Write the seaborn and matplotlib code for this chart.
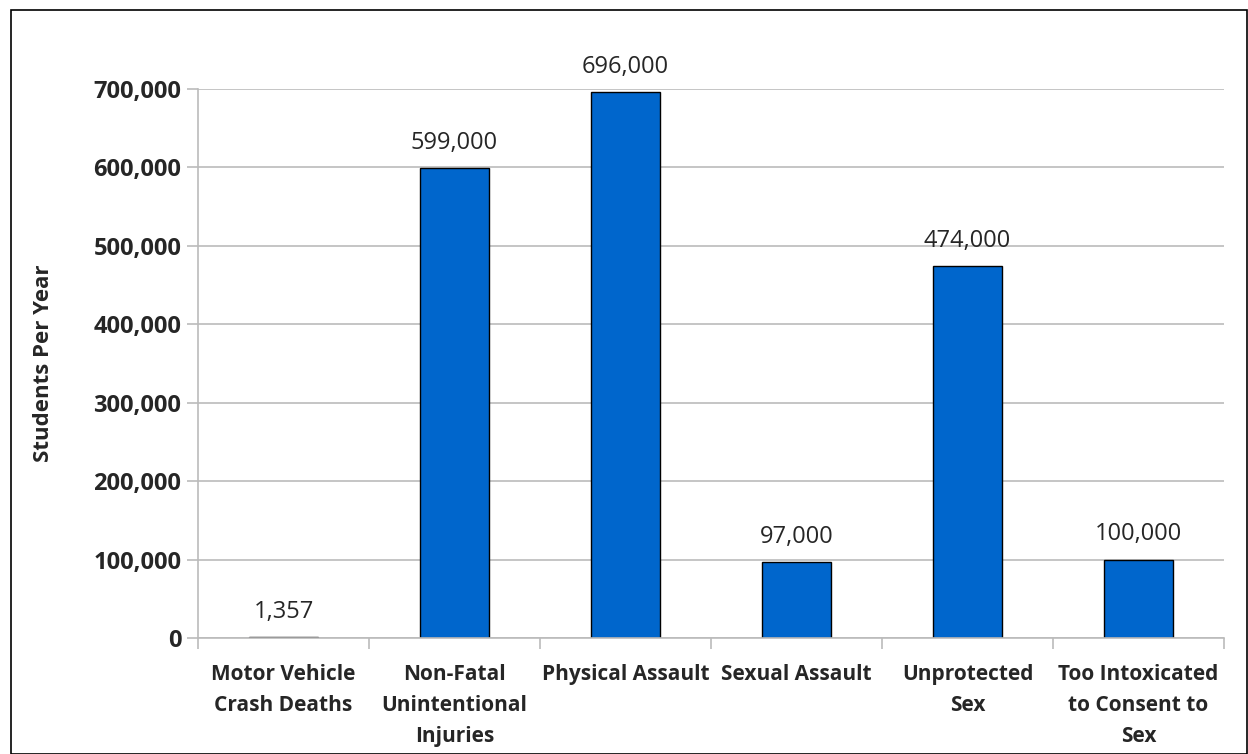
import numpy as np
import pandas as pd
import matplotlib
matplotlib.use("Agg")
import matplotlib.pyplot as plt
from matplotlib.patches import Rectangle
from matplotlib.ticker import FuncFormatter, FixedLocator
import seaborn as sns

categories = ["Motor Vehicle\nCrash Deaths", "Non-Fatal\nUnintentional\nInjuries",
              "Physical Assault", "Sexual Assault", "Unprotected\nSex",
              "Too Intoxicated\nto Consent to\nSex"]
students = [1357, 599000, 696000, 97000, 474000, 100000]
yticks = [0, 100000, 200000, 300000, 400000, 500000, 600000, 700000]

df = pd.DataFrame({"category": categories, "students": students})

sns.set_theme(style="white")
plt.rcParams['font.family'] = ['Open Sans', 'DejaVu Sans']

fig = plt.figure(figsize=(12.48, 7.54), dpi=100)
ax = fig.add_axes([198/1248, 1 - 638/754, (1224-198)/1248, (638-89)/754])

sns.barplot(data=df, x="category", y="students", color="#0066CC", width=0.4,
            edgecolor="black", linewidth=1, saturation=1, ax=ax)

ax.set_ylim(0, 700000)
ax.set_xlim(-0.5, len(categories) - 0.5)
ax.set_yticks(yticks)
ax.yaxis.set_major_formatter(FuncFormatter(lambda v, p: f"{int(v):,}"))
ax.yaxis.grid(True, color="#BBBBBB", linewidth=1.2)
ax.set_axisbelow(True)
for s in ["top", "right"]:
    ax.spines[s].set_visible(False)
ax.spines["left"].set_color("#BBBBBB")
ax.spines["bottom"].set_color("#BBBBBB")
ax.spines["left"].set_linewidth(1.2)
ax.spines["bottom"].set_linewidth(1.2)

# labels centred under bars, tick marks between categories
ax.set_xticks(range(len(categories)))
ax.set_xticklabels(categories, fontsize=15, fontweight="bold", linespacing=1.6)
ax.tick_params(axis="x", length=0, pad=19)
ax.xaxis.set_minor_locator(FixedLocator(np.arange(-0.5, len(categories), 1)))
ax.tick_params(axis="x", which="minor", bottom=True, length=8, color="#BBBBBB", width=1.2)
ax.tick_params(axis="y", left=True, length=8, color="#BBBBBB", width=1.2, labelsize=17, pad=4)
for t in ax.get_yticklabels():
    t.set_fontweight("bold")

ax.set_xlabel("")
ax.set_ylabel("Students Per Year", fontsize=16, fontweight="bold", labelpad=28)

for i, v in enumerate(students):
    ax.text(i, v + 17000, f"{v:,}", ha="center", va="bottom", fontsize=17)

fig.patches.append(Rectangle((11/1248, 0), 1 - 12/1248, 1 - 10/754, transform=fig.transFigure,
                             fill=False, edgecolor="black", linewidth=1.2))

fig.savefig("out.png", dpi=100)
